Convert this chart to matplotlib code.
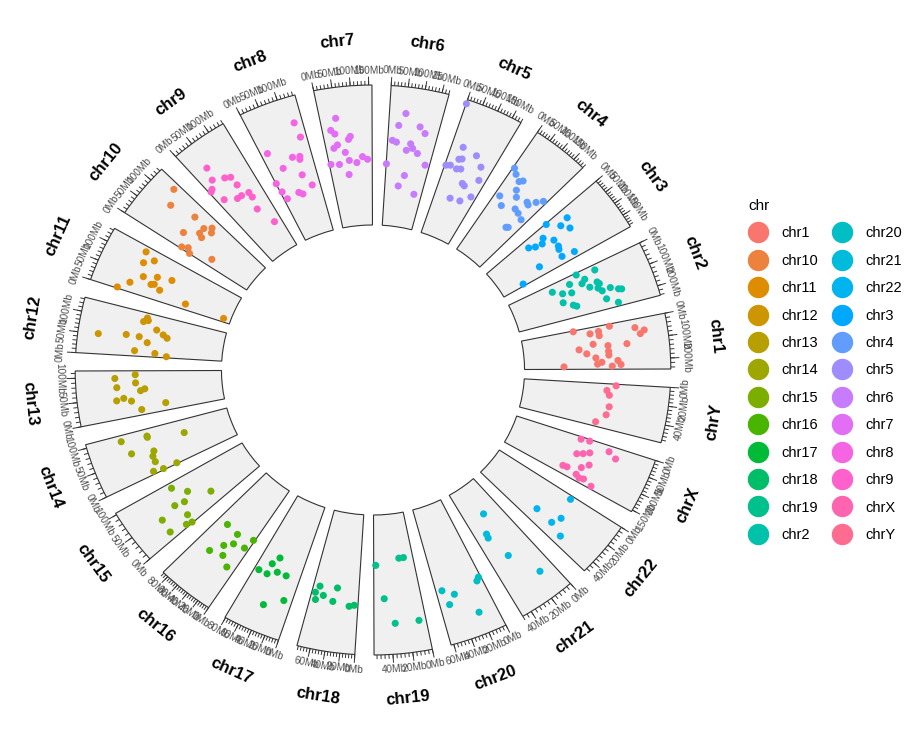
import numpy as np
import matplotlib
matplotlib.use("Agg")
import matplotlib.pyplot as plt
from matplotlib.lines import Line2D

plt.rcParams['font.family'] = ['Liberation Sans', 'DejaVu Sans']

# chromosomes in circle order, lengths in Mb
chroms = ['chr%d' % i for i in range(1, 23)] + ['chrX', 'chrY']
chrom_len = [249, 243, 198, 191, 181, 171, 159, 146, 141, 136, 135, 134,
             115, 107, 103, 90, 81, 78, 59, 63, 48, 51, 155, 59]

# position (Mb) and score of each point
chr1_pos = [5, 36, 30, 55, 12, 42, 60, 75, 117, 100, 117, 125, 149, 170, 154, 182, 202, 209, 219, 224, 232, 232]
chr1_val = [0.36, 0.47, 0.53, 0.53, 0.61, 0.78, 0.84, 0.81, 0.71, 0.48, 0.58, 0.38, 0.58, 0.58, 0.43, 0.49, 0.64, 0.53, 0.50, 0.66, 0.60, 0.27]
chr2_pos = [10, 51, 27, 44, 68, 102, 102, 122, 141, 160, 165, 143, 190, 224, 46, 80, 95, 134, 168, 180, 90]
chr2_val = [0.51, 0.55, 0.64, 0.44, 0.52, 0.56, 0.63, 0.61, 0.69, 0.74, 0.76, 0.63, 0.64, 0.71, 0.31, 0.37, 0.43, 0.35, 0.41, 0.43, 0.62]
chr3_pos = [186, 150, 38, 55, 63, 44, 4, 81, 48, 38, 79, 115, 129, 164, 174]
chr3_val = [0.16, 0.32, 0.34, 0.38, 0.43, 0.46, 0.54, 0.51, 0.61, 0.68, 0.65, 0.51, 0.50, 0.49, 0.58]
chr4_pos = [6, 25, 52, 63, 65, 84, 23, 55, 113, 136, 166, 139, 147, 132, 143, 160, 178]
chr4_val = [0.70, 0.67, 0.64, 0.66, 0.58, 0.54, 0.48, 0.43, 0.47, 0.46, 0.44, 0.33, 0.34, 0.56, 0.55, 0.60, 0.64]
chr5_pos = [1, 43, 45, 56, 101, 136, 5, 22, 51, 67, 154, 98, 110, 76, 123, 159]
chr5_val = [0.97, 0.67, 0.58, 0.59, 0.65, 0.59, 0.51, 0.52, 0.51, 0.52, 0.50, 0.43, 0.42, 0.30, 0.31, 0.37]
chr6_pos = [53, 34, 106, 127, 17, 32, 84, 94, 72, 115, 1, 154, 80, 60, 137]
chr6_val = [0.81, 0.72, 0.73, 0.69, 0.61, 0.60, 0.60, 0.57, 0.55, 0.54, 0.44, 0.47, 0.37, 0.29, 0.25]
chr7_pos = [48, 27, 38, 87, 80, 41, 27, 64, 124, 142, 102, 75, 6, 37, 68]
chr7_val = [0.78, 0.70, 0.67, 0.64, 0.62, 0.59, 0.57, 0.53, 0.49, 0.47, 0.45, 0.47, 0.46, 0.45, 0.37]
chr8_pos = [123, 128, 19, 85, 108, 105, 44, 95, 117, 1, 6, 61, 73, 12]
chr8_val = [0.81, 0.70, 0.67, 0.58, 0.57, 0.55, 0.53, 0.44, 0.35, 0.45, 0.38, 0.33, 0.31, 0.32]
chr9_pos = [41, 31, 13, 6, 63, 78, 80, 20, 55, 71, 96, 97, 87, 113]
chr9_val = [0.80, 0.71, 0.66, 0.65, 0.67, 0.65, 0.58, 0.55, 0.50, 0.50, 0.49, 0.45, 0.36, 0.22]
chr10_pos = [120, 83, 101, 44, 72, 65, 92, 110, 97, 5, 14, 1, 26]
chr10_val = [0.84, 0.78, 0.60, 0.59, 0.50, 0.47, 0.50, 0.46, 0.44, 0.54, 0.50, 0.47, 0.32]
chr11_pos = [120, 90, 108, 54, 68, 77, 26, 3, 41, 45, 34, 20, 16]
chr11_val = [0.73, 0.71, 0.65, 0.67, 0.58, 0.48, 0.74, 0.81, 0.60, 0.58, 0.53, 0.33, 0.05]
chr12_pos = [119, 112, 106, 88, 76, 67, 52, 60, 59, 44, 16, 12, 4]
chr12_val = [0.55, 0.54, 0.57, 0.47, 0.42, 0.39, 0.86, 0.67, 0.58, 0.52, 0.60, 0.46, 0.38]
chr13_pos = [105, 97, 84, 75, 63, 67, 44, 48, 39, 22, 14]
chr13_val = [0.59, 0.73, 0.59, 0.72, 0.56, 0.53, 0.73, 0.68, 0.63, 0.40, 0.57]
chr14_pos = [94, 90, 87, 70, 62, 51, 40, 26, 7, 3, 2]
chr14_val = [0.76, 0.58, 0.58, 0.33, 0.72, 0.57, 0.59, 0.59, 0.63, 0.56, 0.46]
chr15_pos = [91, 65, 32, 49, 54, 21, 6, 2, 44, 15]
chr15_val = [0.58, 0.50, 0.37, 0.56, 0.63, 0.60, 0.65, 0.61, 0.76, 0.77]
chr16_pos = [68, 38, 3, 45, 32, 9, 59, 34, 15]
chr16_val = [0.45, 0.46, 0.43, 0.58, 0.53, 0.51, 0.67, 0.64, 0.69]
chr17_pos = [49, 57, 73, 57, 42, 25, 40, 13]
chr17_val = [0.45, 0.51, 0.59, 0.59, 0.55, 0.55, 0.80, 0.72]
chr18_pos = [67, 72, 58, 69, 37, 41, 14, 6]
chr18_val = [0.55, 0.60, 0.61, 0.65, 0.54, 0.64, 0.66, 0.65]
chr19_pos = [56, 21, 14, 46, 35, 8]
chr19_val = [0.36, 0.32, 0.32, 0.60, 0.78, 0.78]
chr20_pos = [55, 41, 51, 21, 7, 3]
chr20_val = [0.61, 0.66, 0.72, 0.84, 0.63, 0.61]
chr21_pos = [22, 34, 35, 28, 13]
chr21_val = [0.24, 0.37, 0.40, 0.58, 0.80]
chr22_pos = [4, 36, 37, 27, 42]
chr22_val = [0.60, 0.46, 0.60, 0.63, 0.71]
chrX_pos = [9, 6, 65, 56, 45, 19, 34, 126, 124, 104, 85, 133, 140, 136, 146]
chrX_val = [0.47, 0.53, 0.48, 0.52, 0.56, 0.68, 0.74, 0.43, 0.46, 0.55, 0.59, 0.54, 0.57, 0.60, 0.67]
chrY_pos = [2, 9, 15, 30, 41, 53]
chrY_val = [0.63, 0.57, 0.59, 0.60, 0.59, 0.53]

all_pos = [chr1_pos, chr2_pos, chr3_pos, chr4_pos, chr5_pos, chr6_pos, chr7_pos, chr8_pos,
           chr9_pos, chr10_pos, chr11_pos, chr12_pos, chr13_pos, chr14_pos, chr15_pos, chr16_pos,
           chr17_pos, chr18_pos, chr19_pos, chr20_pos, chr21_pos, chr22_pos, chrX_pos, chrY_pos]
all_val = [chr1_val, chr2_val, chr3_val, chr4_val, chr5_val, chr6_val, chr7_val, chr8_val,
           chr9_val, chr10_val, chr11_val, chr12_val, chr13_val, chr14_val, chr15_val, chr16_val,
           chr17_val, chr18_val, chr19_val, chr20_val, chr21_val, chr22_val, chrX_val, chrY_val]


def hcl_hex(h, c=100, l=65):
    # ggplot2 hue_pal colours (polar Luv -> sRGB)
    hr = np.radians(h)
    U, V = c * np.cos(hr), c * np.sin(hr)
    Xn, Yn, Zn = 95.047, 100.0, 108.883
    d = Xn + 15 * Yn + 3 * Zn
    un, vn = 4 * Xn / d, 9 * Yn / d
    Y = Yn * ((l + 16) / 116) ** 3
    u = U / (13 * l) + un
    v = V / (13 * l) + vn
    X = 9 * Y * u / (4 * v)
    Z = (9 * Y / v - X - 15 * Y) / 3
    X, Y, Z = X / 100, Y / 100, Z / 100
    rgb = [3.240479 * X - 1.537150 * Y - 0.498535 * Z,
           -0.969256 * X + 1.875992 * Y + 0.041556 * Z,
           0.055648 * X - 0.204043 * Y + 1.057311 * Z]
    out = []
    for ch in rgb:
        ch = 12.92 * ch if ch <= 0.0031308 else 1.055 * ch ** (1 / 2.4) - 0.055
        out.append(min(max(ch, 0), 1))
    return tuple(out)


levels = sorted(chroms)  # alphabetical, like R factor levels
colors = {name: hcl_hex(15 + 360 * i / len(levels)) for i, name in enumerate(levels)}


def text_rot(deg):
    rot = (deg - 90 + 180) % 360 - 180
    if rot > 90:
        rot -= 180
    elif rot < -90:
        rot += 180
    return rot


W, H = 906, 729
cx, cy = 373, 370          # circle centre in pixels
px_unit = 140.0            # pixels per radial unit
half_h = 360
half_w = half_h * 1.045
fig = plt.figure(figsize=(W / 100, H / 100), dpi=100)
ax = fig.add_axes([(cx - half_w) / W, (H - cy - half_h) / H, 2 * half_w / W, 2 * half_h / H],
                  projection='polar')
ax.set_aspect('auto')
ax.set_ylim(0, half_h / px_unit)
ax.set_xticks([])
ax.set_yticks([])
ax.grid(False)
ax.spines['polar'].set_visible(False)
ax.patch.set_visible(False)

r0 = 145 / px_unit
r1 = r0 + 1.0
slot = 15.0
span = 11.3

for k, name in enumerate(chroms):
    L = chrom_len[k]
    a0 = slot * k + 0.2
    a1 = a0 + span
    ax.bar(np.radians((a0 + a1) / 2), 1.0, width=np.radians(span), bottom=r0,
           color='#F0F0F0', edgecolor='#333333', linewidth=0.8, zorder=1)

    pos = np.array(all_pos[k], dtype=float)
    th = np.radians(a1 - span * pos / L)
    ax.scatter(th, r0 + np.array(all_val[k]), s=26, color=colors[name],
               edgecolors='none', zorder=3)

    if L >= 200:
        step = 100
    elif L >= 100:
        step = 50
    else:
        step = 20
    minor = np.arange(0, L + 1e-9, step / 5)
    mth = np.radians(a1 - span * minor / L)
    ax.vlines(mth, r1, r1 + 0.03, color='#333333', linewidth=0.7, zorder=2)
    major = np.arange(0, L + 1e-9, step)
    for m in major:
        d = a1 - span * m / L
        ax.vlines(np.radians(d), r1, r1 + 0.06, color='#333333', linewidth=0.7, zorder=2)
        ax.text(np.radians(d), r1 + 0.105, '%dMb' % m, fontsize=7.2, color='#4D4D4D',
                rotation=text_rot(d), rotation_mode='anchor', ha='center', va='center')

    mid = (a0 + a1) / 2
    ax.text(np.radians(mid), 330 / px_unit, name, fontsize=12, fontweight='bold',
            rotation=text_rot(mid), rotation_mode='anchor', ha='center', va='center')

handles = [Line2D([], [], marker='o', ls='', markersize=14.4, color=colors[n]) for n in levels]
fig.legend(handles, levels, loc='upper left', bbox_to_anchor=(748 / W, 1 - 199 / H),
           ncol=2, frameon=False, title='chr', fontsize=10.5, title_fontsize=11,
           alignment='left', handlelength=1.4, handletextpad=0.9, labelspacing=0.92,
           columnspacing=0.9, borderpad=0, borderaxespad=0)

fig.savefig('out.png', dpi=100)
